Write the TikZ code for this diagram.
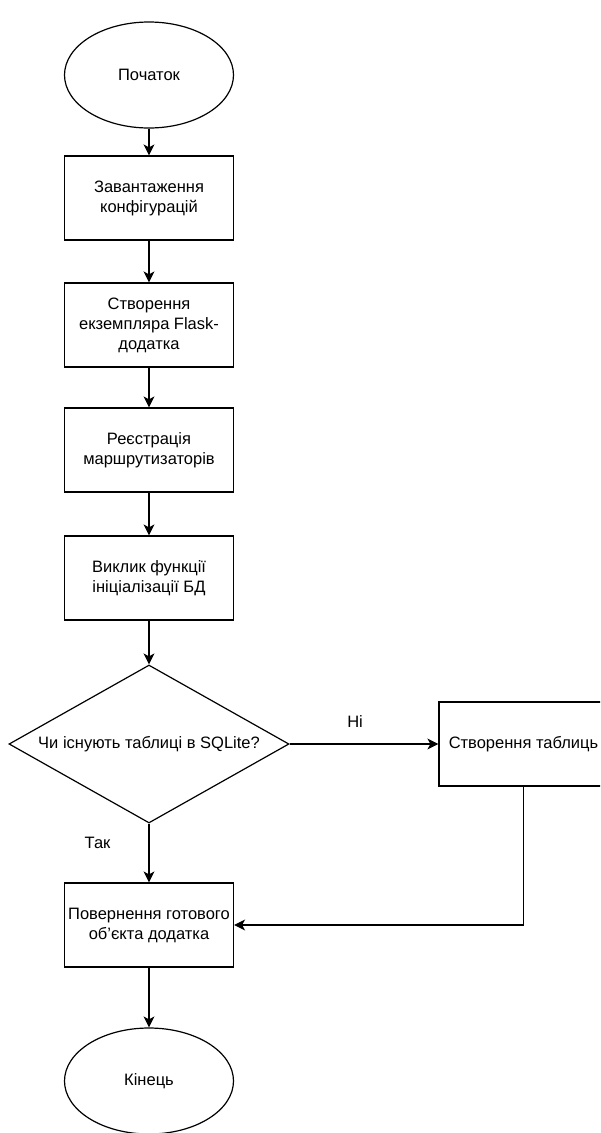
\documentclass[tikz,border=0pt]{standalone}
\usepackage{fontspec}
\setmainfont{Liberation Sans}
\usetikzlibrary{arrows.meta}
\usetikzlibrary{shapes.geometric}

\tikzset{
  block/.style = {draw, line width=1.2pt, rectangle, minimum width=169pt, minimum height=84pt, align=center, inner sep=1pt},
  terminal/.style = {draw, line width=1.2pt, ellipse, minimum width=169pt, minimum height=106pt, inner sep=0pt},
  decision/.style = {draw, line width=1.2pt, diamond, minimum width=280pt, minimum height=158pt, inner sep=0pt},
  flow/.style = {line width=1.2pt, -{Stealth[length=11pt,width=11pt,inset=3pt]}},
  answer/.style = {inner sep=0pt}
}

\begin{document}
\begin{tikzpicture}[x=1pt, y=-1pt, font=\fontsize{16.5}{20}\selectfont]

% page frame
\clip (0,0) rectangle (600,1133);
\useasboundingbox (0,0) rectangle (600,1133);

% draw nodes
\node [terminal] (start) at (149,75) {Початок};
\node [block] (config) at (149,198) {Завантаження\\конфігурацій};
\node [block] (flaskapp) at (149,325) {Створення\\екземпляра Flask-\\додатка};
\node [block] (routers) at (149,450) {Реєстрація\\маршрутизаторів};
\node [block] (dbinit) at (149,578) {Виклик функції\\ініціалізації БД};
\node [decision, label=center:{Чи існують таблиці в SQLite?}] (tables) at (149,744) {};
\node [block] (create) at (523.5,744) {Створення таблиць};
\node [block] (result) at (149,925) {Повернення готового\\об'єкта додатка};
\node [terminal] (stop) at (149,1081) {Кінець};

% draw connectors
\draw [flow] (start) -- (config);
\draw [flow] (config) -- (flaskapp);
\draw [flow] (flaskapp) -- (routers);
\draw [flow] (routers) -- (dbinit);
\draw [flow] (dbinit) -- (tables);
\draw [flow] (tables.east) -- node[answer, pos=0.44, above=16pt] {Ні} (create.west);
\draw [flow] (tables.south) -- node[answer, pos=0.33, left=38pt] {Так} (result.north);
\draw [flow] (create.south) |- (result.east);
\draw [flow] (result) -- (stop);

\end{tikzpicture}
\end{document}
